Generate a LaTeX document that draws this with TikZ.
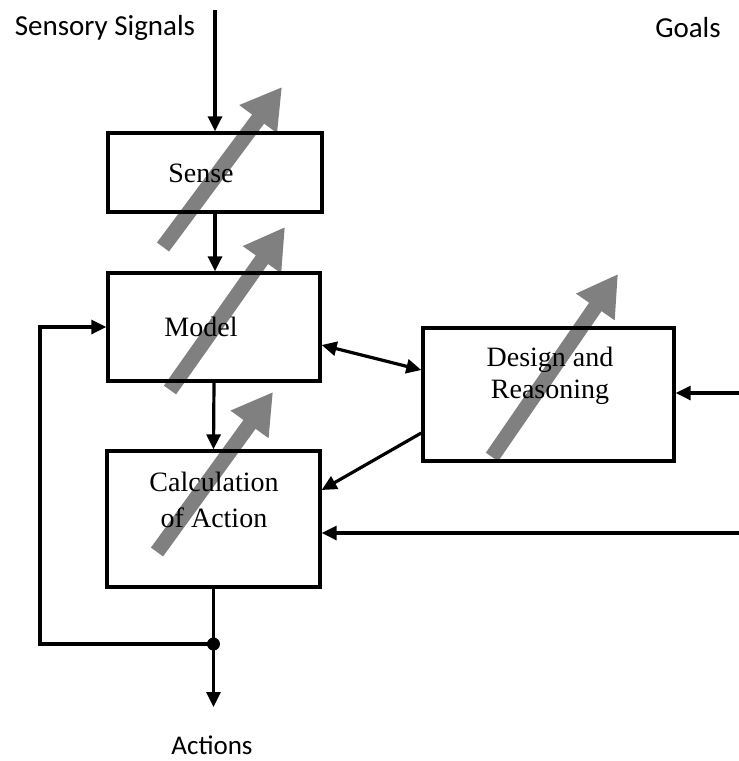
\documentclass[tikz,border=0pt]{standalone}
\usepackage{fontspec}
\setmainfont{Liberation Serif}
\newfontfamily\tagfont{Carlito}
\usetikzlibrary{arrows.meta,calc}

\tikzset{
  block/.style={draw=black, line width=3.4pt, rectangle, inner sep=0pt},
  blocktext/.style={font=\fontsize{28}{35}\selectfont, align=center, inner sep=0pt},
  tagtext/.style={font=\tagfont\fontsize{29}{34}\selectfont, inner sep=0pt},
  flow/.style={draw=black, line width=3.2pt, line join=miter,
    -{Triangle[length=15pt 0 0, width=14pt 0 0]}},
  biflow/.style={flow, {Triangle[length=15pt 0 0, width=14pt 0 0]}-{Triangle[length=15pt 0 0, width=14pt 0 0]}},
  adapt/.style={draw=black!50, line width=15pt, line cap=butt,
    -{Triangle[length=40pt 0 0, width=44pt 0 0]}}
}

\begin{document}
\begin{tikzpicture}[x=1pt, y=-1pt]
  \useasboundingbox (0,0) rectangle (739,761);

  % adaptive (grey) arrows, beneath the blocks
  \draw[adapt] (163,247) -- (282,87);
  \draw[adapt] (170,390) -- (285,227);
  \draw[adapt] (157,552) -- (273,392);
  \draw[adapt] (492,457) -- (618,274);

  % processing blocks
  \node[block, minimum width=214pt, minimum height=79pt]  (sense)  at (215,172.5) {};
  \node[block, minimum width=212pt, minimum height=108pt] (model)  at (214,327) {};
  \node[block, minimum width=213pt, minimum height=136pt] (calc)   at (213.5,519) {};
  \node[block, minimum width=251pt, minimum height=133pt] (design) at (548.5,394.5) {};

  % block captions
  \node[blocktext] (senselbl)  at (201,173) {Sense};
  \node[blocktext] (modellbl)  at (201,327) {Model};
  \node[blocktext, font=\fontsize{28}{36}\selectfont] (calclbl) at (214,500) {Calculation\\of Action};
  \node[blocktext, font=\fontsize{28}{32}\selectfont] (designlbl) at (550,376) {Design and\\Reasoning};

  % outer labels
  \node[tagtext] (signals) at (105,28) {Sensory Signals};
  \node[tagtext] (goals)   at (688,28) {Goals};
  \node[tagtext, font=\tagfont\fontsize{27}{32}\selectfont] (actions) at (212,745) {Actions};

  % free ends of the connectors
  \coordinate (sigtop) at (215,10);
  \coordinate (goalin) at (739,393);
  \coordinate (calcin) at (739,533);
  \coordinate (actout) at (213.5,707);
  \coordinate (branch) at (213.5,644);

  % signal flow
  \draw[flow] (sigtop) -- (sense.north);
  \draw[flow] (sense.south) -- (sense.south |- model.north);
  \draw[flow] (model.south) -- (calc.north);
  \draw[biflow] ([yshift=-18pt]model.east) -- ([yshift=24.5pt]design.west);
  \draw[flow] ([yshift=-38.5pt]design.west) -- ([yshift=29pt]calc.east);
  \draw[flow] (goalin) -- (goalin -| design.east);
  \draw[flow] (calcin) -- (calcin -| calc.east);
  \draw[flow] (calc.south) -- (actout);
  \draw[flow] (branch) -- ++(-173.5,0) |- (model.west);
  \fill[black] (branch) circle (6.5pt);
\end{tikzpicture}
\end{document}
